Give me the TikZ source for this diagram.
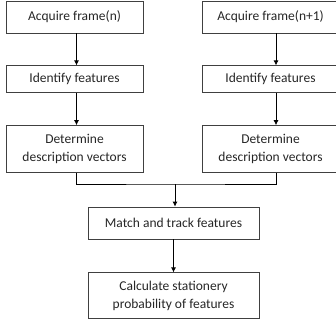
\documentclass[tikz,border=0pt]{standalone}
\usepackage{fontspec}
\setmainfont{Carlito}
\usetikzlibrary{positioning,arrows.meta}

\begin{document}
\begin{tikzpicture}[x=1pt,y=1pt,
        font=\fontsize{13.5}{18.5}\selectfont,
        stepbox/.style={draw=black!75,line width=0.8pt,align=center,inner sep=0pt,
          minimum width=137pt,text=black!85},
        arr/.style={-{Latex[length=5pt,width=5pt]},line width=0.8pt}]
  \useasboundingbox (0,0) rectangle (336,-326);
  % left column
  \node[stepbox,minimum height=32pt] (aq1) at (74.5,-17) {Acquire frame(n)};
  \node[stepbox,minimum height=27pt,below=32pt of aq1] (id1) {Identify features};
  \node[stepbox,minimum height=47pt,below=32pt of id1] (de1) {Determine\\description vectors};
  % right column (runs past the page edge)
  \node[stepbox,minimum height=32pt] (aq2) at (270.5,-17) {Acquire frame(n+1)};
  \node[stepbox,minimum height=27pt,below=32pt of aq2] (id2) {Identify features};
  \node[stepbox,minimum height=47pt,below=32pt of id2] (de2) {Determine\\description vectors};
  % merge
  \coordinate (join) at (175,-184);
  \node[stepbox,minimum width=171pt,minimum height=32pt] (match) at (173.5,-223) {Match and track features};
  \node[stepbox,minimum width=171pt,minimum height=46pt,below=33pt of match] (calc) {Calculate stationery\\probability of features};

  \draw[arr] ([xshift=2pt]aq1.south) -- ([xshift=2pt]id1.north);
  \draw[arr] ([xshift=2pt]id1.south) -- ([xshift=2pt]de1.north);
  \draw[arr] ([xshift=5.5pt]aq2.south) -- ([xshift=5.5pt]id2.north);
  \draw[arr] ([xshift=5.5pt]id2.south) -- ([xshift=5.5pt]de2.north);
  \draw[line width=0.8pt] ([xshift=2pt]de1.south) |- (join) -| ([xshift=5.5pt]de2.south);
  \draw[arr] (join) -- (join |- match.north);
  \draw[arr] (match) -- (calc);
\end{tikzpicture}
\end{document}
